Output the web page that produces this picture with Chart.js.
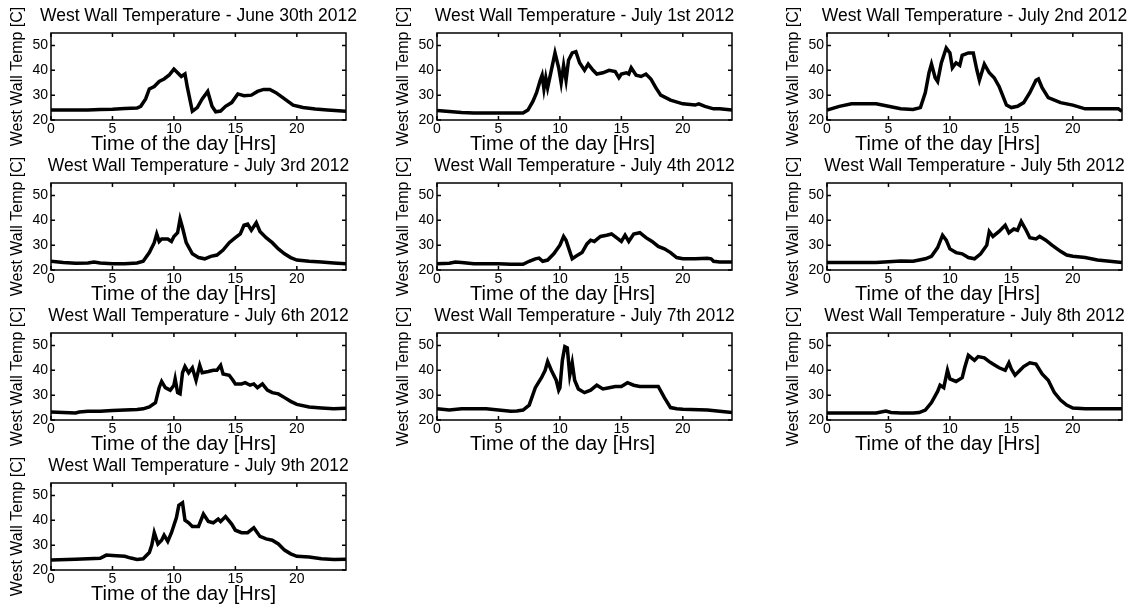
<!DOCTYPE html>
<html>
<head>
<meta charset="utf-8">
<title>West Wall Temperature</title>
<script src="https://cdn.jsdelivr.net/npm/chart.js@4.4.1/dist/chart.umd.min.js"></script>
<style>
    html, body { margin: 0; padding: 0; background: #fff; }
    #page { position: relative; width: 1137px; height: 611px; overflow: hidden; }
    #page canvas { position: absolute; }
</style>
</head>
<body>
<div id="page"></div>
<script>
// Day titles
const dayTitles = [
    'West Wall Temperature - June 30th 2012',
    'West Wall Temperature - July 1st 2012',
    'West Wall Temperature - July 2nd 2012',
    'West Wall Temperature - July 3rd 2012',
    'West Wall Temperature - July 4th 2012',
    'West Wall Temperature - July 5th 2012',
    'West Wall Temperature - July 6th 2012',
    'West Wall Temperature - July 7th 2012',
    'West Wall Temperature - July 8th 2012',
    'West Wall Temperature - July 9th 2012'
];
const xAxisLabel = 'Time of the day [Hrs]';
const yAxisLabel = 'West Wall Temp [C]';
const xTickValues = [0, 5, 10, 15, 20];
const yTickValues = [20, 30, 40, 50];

// Readings (hour of day, temperature C)
const june30Hours = [0, 1, 2, 3, 4, 5, 6, 7, 7.3, 7.7, 8, 8.4, 8.8, 9.2, 9.6, 10, 10.3, 10.6, 10.9, 11.1, 11.5, 11.9, 12.3, 12.75, 13.1, 13.4, 13.8, 14.2, 14.7, 15.2, 15.7, 16.3, 16.8, 17.3, 17.8, 18.3, 19, 19.7, 20.5, 21.5, 22.5, 24];
const june30Temps = [24, 24, 24, 24, 24.2, 24.3, 24.6, 24.8, 25.5, 28.5, 32.5, 33.5, 35.5, 36.5, 38, 40.5, 39, 37.5, 38.5, 33, 23.5, 25, 28.5, 31.5, 25.5, 23.3, 23.6, 25.5, 27, 30.5, 29.8, 30, 31.5, 32.3, 32.3, 31, 28.5, 26, 25, 24.4, 24, 23.5];

const july1Hours = [0, 1, 2, 3, 4, 5, 6, 7, 7.4, 7.8, 8.1, 8.4, 8.55, 8.7, 8.85, 9.0, 9.3, 9.6, 9.9, 10.1, 10.3, 10.5, 10.7, 11.0, 11.3, 11.6, 12.0, 12.3, 12.7, 13.0, 13.5, 14.0, 14.5, 14.8, 15.0, 15.4, 15.6, 15.8, 16.2, 16.6, 17.0, 17.4, 17.8, 18.2, 19.0, 20.0, 21.0, 21.3, 21.8, 22.5, 23.0, 24];
const july1Temps = [23.8, 23.4, 23.0, 22.8, 22.8, 22.8, 22.8, 22.8, 24, 27.5, 31, 36, 38, 32.5, 37, 33, 40, 47, 41, 35, 42, 36, 44, 47, 47.5, 43, 40, 42.5, 40, 38.5, 39, 40, 39.5, 37, 38.5, 39, 38.5, 41, 38, 37.5, 38.5, 36.5, 33, 30, 28, 26.5, 26, 26.5, 25.5, 24.5, 24.5, 24];

const july2Hours = [0, 1, 2, 3, 4, 5, 6, 7, 7.6, 8.0, 8.3, 8.5, 8.8, 9.0, 9.3, 9.7, 10.0, 10.2, 10.5, 10.8, 11.0, 11.5, 11.9, 12.2, 12.4, 12.8, 13.2, 13.6, 14.0, 14.2, 14.6, 15.0, 15.5, 16.0, 16.5, 17.0, 17.2, 17.5, 18.0, 19.0, 20.0, 21.0, 22.0, 23.0, 23.7, 24];
const july2Temps = [24, 25.5, 26.5, 26.5, 26.5, 25.5, 24.5, 24.2, 25, 31, 39, 42.5, 37, 35.5, 43, 49, 47, 41, 43, 42, 46, 47, 47, 40, 36, 42.5, 39, 37, 33.5, 31, 26, 25, 25.5, 27, 31, 36, 36.5, 33, 29, 27, 26, 24.5, 24.5, 24.5, 24.5, 23.5];

const july3Hours = [0, 1, 2, 3, 3.5, 4, 5, 6, 7, 7.5, 8.0, 8.4, 8.6, 8.8, 9.0, 9.5, 9.8, 10.0, 10.3, 10.5, 10.7, 11.0, 11.5, 12.0, 12.5, 13.0, 13.5, 14.0, 14.5, 15.0, 15.4, 15.7, 16.0, 16.3, 16.7, 17.0, 17.5, 18.0, 18.5, 19.0, 19.5, 20.0, 21.0, 22.0, 23.0, 24];
const july3Temps = [23.5, 23, 22.7, 22.8, 23.2, 22.8, 22.5, 22.5, 22.8, 23.5, 27, 31, 34.5, 31.5, 32.5, 32.5, 31.5, 33.5, 35, 40.5, 37, 31, 26.5, 25, 24.5, 25.5, 26, 28, 31, 33, 34.5, 38, 38.5, 36, 39, 35.5, 33, 31, 28.5, 26.5, 25, 24, 23.5, 23.2, 22.8, 22.5];

const july4Hours = [0, 1, 1.5, 2, 3, 4, 5, 6, 7, 7.5, 8.0, 8.3, 8.6, 9.0, 9.5, 10.0, 10.3, 10.5, 10.8, 11.0, 11.3, 11.8, 12.2, 12.5, 12.8, 13.3, 13.8, 14.2, 14.6, 15.0, 15.3, 15.6, 16.0, 16.5, 17.0, 17.5, 18.0, 18.5, 19.0, 19.5, 20.0, 21.0, 22.0, 22.3, 22.5, 23.0, 24];
const july4Temps = [22.5, 22.7, 23.2, 23, 22.5, 22.5, 22.5, 22.3, 22.3, 23.5, 24.5, 24.8, 23.5, 24, 26.5, 30, 33.5, 32, 27.5, 24.5, 25.5, 27, 30.5, 32, 31.5, 33.5, 34, 34.5, 33, 31.5, 34, 31.5, 34.5, 35, 33, 31.5, 29.5, 28.5, 27, 25, 24.5, 24.5, 24.7, 24.5, 23.5, 23.2, 23.2];

const july5Hours = [0, 2, 4, 5, 6, 7, 7.5, 8.0, 8.5, 9.0, 9.4, 9.7, 10.0, 10.5, 11.0, 11.5, 12.0, 12.5, 13.0, 13.2, 13.5, 14.0, 14.5, 14.8, 15.2, 15.5, 15.8, 16.2, 16.5, 17.0, 17.3, 17.8, 18.3, 19.0, 19.5, 20.0, 21.0, 22.0, 23.0, 24];
const july5Temps = [23, 23, 23, 23.3, 23.6, 23.5, 24, 24.5, 25.5, 29, 34, 32, 28.5, 27, 26.5, 25, 24.5, 26.5, 30, 35.5, 33.5, 35.5, 38, 35, 36.5, 36, 39.5, 36, 33, 32.5, 33.5, 32, 30, 27.5, 26, 25.5, 25, 24, 23.5, 23];

const july6Hours = [0, 1, 2, 2.3, 3, 4, 5, 6, 7, 7.5, 8.0, 8.5, 8.8, 9.0, 9.3, 9.7, 10.0, 10.1, 10.3, 10.5, 10.7, 10.9, 11.2, 11.5, 11.8, 12.1, 12.3, 12.8, 13.2, 13.5, 13.8, 14.0, 14.5, 14.8, 15.0, 15.5, 15.8, 16.2, 16.5, 16.8, 17.2, 17.6, 18.0, 18.5, 19.0, 19.5, 20.0, 21.0, 22.0, 23.0, 24];
const july6Temps = [23.2, 23, 22.8, 23.2, 23.5, 23.5, 23.8, 24, 24.2, 24.5, 25.3, 27, 33, 35.5, 33, 32, 34, 36.5, 31, 30.5, 39, 41.5, 39, 41, 36, 42, 39, 39.5, 40, 40, 42, 38.5, 38, 36, 34.5, 34.5, 35, 34, 34.5, 33, 34.5, 32, 31, 30.5, 29, 27.5, 26.3, 25.2, 24.8, 24.5, 24.7];

const july7Hours = [0, 1, 2, 3, 4, 5, 6, 6.5, 7, 7.5, 8.0, 8.5, 8.8, 9.0, 9.3, 9.7, 9.9, 10.0, 10.2, 10.4, 10.6, 10.8, 11.0, 11.2, 11.5, 12.0, 12.5, 13.0, 13.5, 14.0, 14.5, 15.0, 15.5, 16.0, 16.5, 17.0, 17.5, 18.0, 18.5, 19.0, 19.5, 20.0, 22.0, 23.0, 24];
const july7Temps = [24.5, 24, 24.5, 24.5, 24.5, 24, 23.5, 23.6, 24, 26, 33, 37, 40, 43.5, 40, 36, 32, 33, 44, 49.5, 49, 38, 43, 36, 32.5, 31, 32, 34, 32.5, 33, 33.5, 33.5, 35, 34, 33.5, 33.5, 33.5, 33.5, 29, 25, 24.5, 24.3, 24, 23.5, 23];

const july8Hours = [0, 2, 4, 4.5, 4.8, 5.2, 6, 7, 7.5, 8.0, 8.5, 9.0, 9.2, 9.5, 9.8, 10.0, 10.5, 11.0, 11.2, 11.5, 12.0, 12.3, 12.8, 13.2, 13.5, 14.0, 14.5, 14.8, 15.0, 15.3, 15.7, 16.0, 16.5, 17.0, 17.5, 18.0, 18.5, 19.0, 19.5, 20.0, 21.0, 23.0, 24];
const july8Temps = [22.8, 22.8, 22.8, 23.3, 23.6, 23, 22.8, 22.8, 23, 24, 27, 31.5, 34, 33, 40, 36.5, 35.5, 37, 41, 46, 44, 45.5, 45, 43.5, 42.5, 41, 40, 43, 40.5, 38, 40, 41.5, 43, 42.5, 38.5, 36, 31, 28, 26, 24.8, 24.5, 24.5, 24.5];

const july9Hours = [0, 2, 4, 4.5, 5, 6, 6.5, 7, 7.5, 8.0, 8.2, 8.4, 8.7, 9.0, 9.2, 9.5, 9.8, 10.0, 10.2, 10.4, 10.7, 10.9, 11.2, 11.5, 12.0, 12.4, 12.8, 13.2, 13.6, 13.8, 14.2, 14.7, 15.0, 15.5, 16.0, 16.5, 17.0, 17.5, 18.0, 18.5, 19.0, 19.5, 20.0, 21.0, 22.0, 23.0, 24];
const july9Temps = [24, 24.3, 24.7, 26, 25.8, 25.5, 24.8, 24.2, 24.5, 27, 30, 35, 30.5, 32, 34, 31.5, 35, 38, 41, 46, 47, 40, 39, 37.5, 37.5, 42.5, 39.5, 39, 40.5, 39.5, 41.5, 38.5, 36, 35, 35, 37, 33.5, 32.5, 32, 30.5, 28, 26.5, 25.5, 25.2, 24.5, 24.2, 24.3];

const dayHours = [june30Hours, july1Hours, july2Hours, july3Hours, july4Hours, july5Hours, july6Hours, july7Hours, july8Hours, july9Hours];
const dayTemps = [june30Temps, july1Temps, july2Temps, july3Temps, july4Temps, july5Temps, july6Temps, july7Temps, july8Temps, july9Temps];

// Panel placement (plot area corners on the page)
const plotLefts = [51, 437, 827];
const plotTops = [33, 183, 333, 483];
const labelShifts = [-15, -22, -27];  // x label sits a bit left of centre in the scan
const AXIS_W = 51, TITLE_H = 33, XAXIS_H = 42, PLOT_W = 295;
const FONT = '"Liberation Sans", Arial, Helvetica, sans-serif';

// MATLAB-like box with inward ticks, plus the x label
const boxPlugin = {
    id: 'boxPlugin',
    afterDatasetsDraw(chart, args, opts) {
        const { ctx, chartArea: a, scales } = chart;
        ctx.save();
        ctx.strokeStyle = '#000';
        ctx.lineWidth = 1.5;
        ctx.strokeRect(a.left, a.top, a.right - a.left, a.bottom - a.top);
        ctx.beginPath();
        scales.x.ticks.forEach(t => {
            const px = scales.x.getPixelForValue(t.value);
            ctx.moveTo(px, a.bottom); ctx.lineTo(px, a.bottom - 4);
            ctx.moveTo(px, a.top); ctx.lineTo(px, a.top + 4);
        });
        scales.y.ticks.forEach(t => {
            const py = scales.y.getPixelForValue(t.value);
            ctx.moveTo(a.left, py); ctx.lineTo(a.left + 4, py);
            ctx.moveTo(a.right, py); ctx.lineTo(a.right - 4, py);
        });
        ctx.stroke();
        ctx.fillStyle = '#000';
        ctx.font = '20px ' + FONT;
        ctx.textAlign = 'center';
        ctx.textBaseline = 'middle';
        ctx.fillText(xAxisLabel, (a.left + a.right) / 2 + (opts.shift || 0), a.bottom + 24);
        ctx.restore();
    }
};

const page = document.getElementById('page');

dayTitles.forEach(function(title, i) {
    const col = i % 3;
    const row = Math.floor(i / 3);
    const canvas = document.createElement('canvas');
    canvas.width = AXIS_W + PLOT_W + AXIS_W;
    canvas.height = 162;
    canvas.style.left = (plotLefts[col] - AXIS_W) + 'px';
    canvas.style.top = (plotTops[row] - TITLE_H) + 'px';
    page.appendChild(canvas);

    const points = dayHours[i].map((h, k) => ({ x: h, y: dayTemps[i][k] }));

    new Chart(canvas, {
        type: 'line',
        data: {
            datasets: [{
                data: points,
                borderColor: '#000',
                borderWidth: 3.5,
                pointRadius: 0,
                tension: 0,
                fill: false
            }]
        },
        options: {
            responsive: false,
            animation: false,
            devicePixelRatio: 1,
            events: [],
            layout: { padding: 0 },
            plugins: {
                legend: { display: false },
                tooltip: { enabled: false },
                boxPlugin: { shift: labelShifts[col] },
                title: {
                    display: true,
                    text: title,
                    color: '#000',
                    font: { family: FONT, size: 17.5, weight: 'normal' },
                    padding: { top: 6, bottom: 6 }
                }
            },
            scales: {
                x: {
                    type: 'linear',
                    min: 0,
                    max: 24,
                    afterBuildTicks: s => { s.ticks = xTickValues.map(v => ({ value: v })); },
                    afterFit: s => { s.height = XAXIS_H; },
                    grid: { display: false, drawTicks: false },
                    border: { display: false },
                    ticks: {
                        color: '#000',
                        padding: 1,
                        maxRotation: 0,
                        autoSkip: false,
                        font: { family: FONT, size: 14 }
                    }
                },
                y: {
                    min: 20,
                    max: 55,
                    afterBuildTicks: s => { s.ticks = yTickValues.map(v => ({ value: v })); },
                    afterFit: s => { s.width = AXIS_W; },
                    grid: { display: false, drawTicks: false },
                    border: { display: false },
                    ticks: {
                        color: '#000',
                        padding: 3,
                        font: { family: FONT, size: 14 }
                    },
                    title: {
                        display: true,
                        text: yAxisLabel,
                        color: '#000',
                        font: { family: FONT, size: 16 },
                        padding: { top: 8, bottom: 0 }
                    }
                },
                // empty right-hand axis so the title stays centred over the plot
                spacer: {
                    position: 'right',
                    min: 0,
                    max: 1,
                    afterFit: s => { s.width = AXIS_W; },
                    grid: { display: false, drawTicks: false },
                    border: { display: false },
                    ticks: { display: false }
                }
            }
        },
        plugins: [boxPlugin]
    });
});
</script>
</body>
</html>
